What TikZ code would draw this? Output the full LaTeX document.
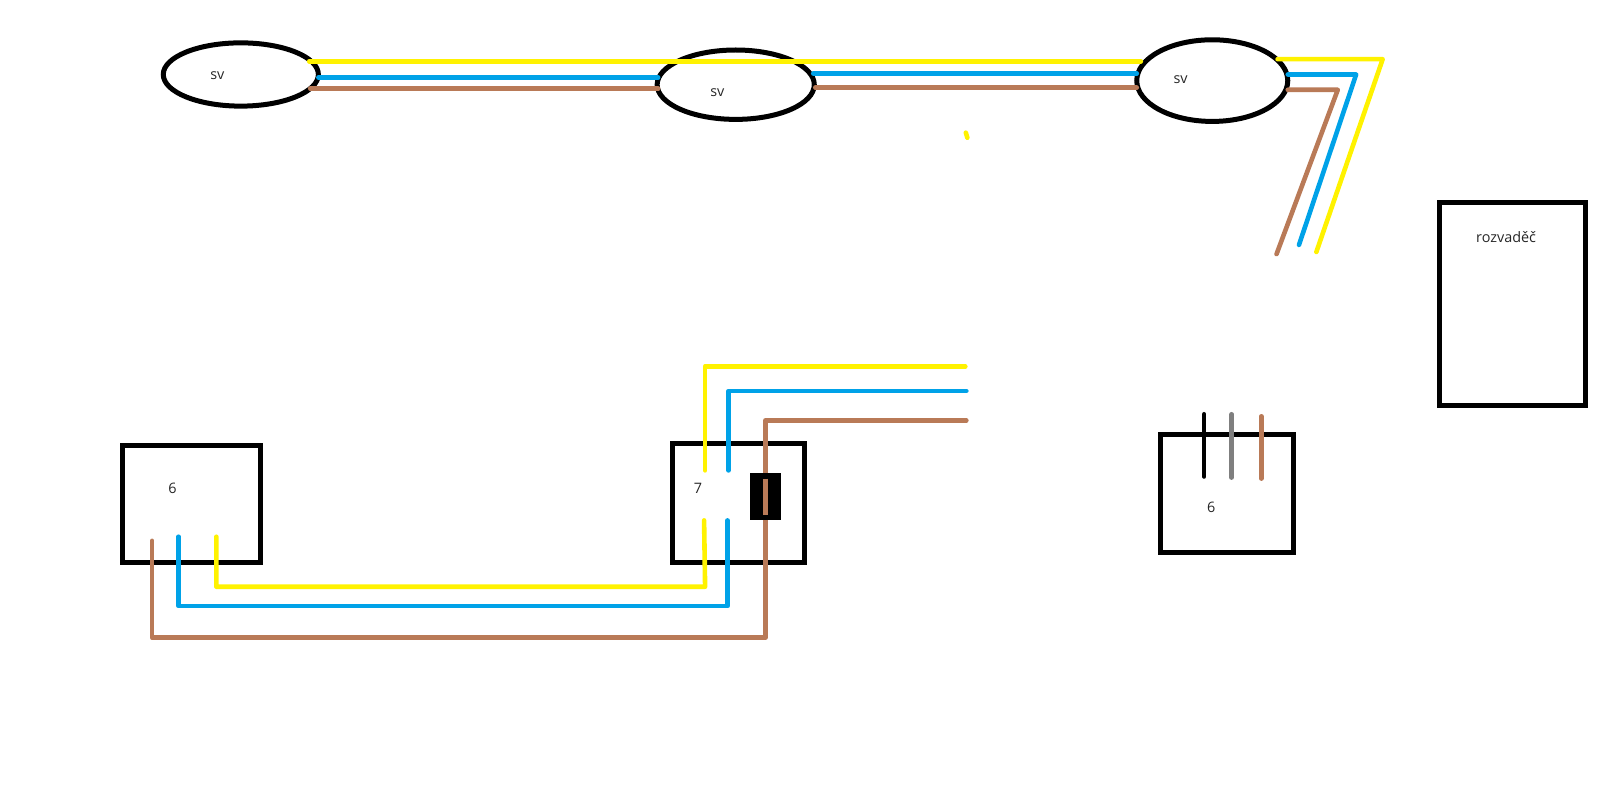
\documentclass[tikz,border=0pt]{standalone}
\usepackage{fontspec}
\setmainfont{Open Sans}
\usetikzlibrary{shapes.geometric}
\def\pu{0.5102pt}
\definecolor{wyellow}{HTML}{FFF200}
\definecolor{wblue}{HTML}{00A2E8}
\definecolor{wbrown}{HTML}{B97A57}
\definecolor{wgray}{HTML}{7F7F7F}
\tikzset{
  lamp/.style={ellipse,draw=black,line width=2.5pt,inner sep=0pt,outer sep=0pt},
  cabinet/.style={rectangle,draw=black,line width=2.5pt,inner sep=0pt,outer sep=0pt},
  wire/.style={line width=2.3pt,line cap=round,line join=round},
  wy/.style={wire,draw=wyellow},
  wb/.style={wire,draw=wblue},
  wn/.style={wire,draw=wbrown},
  wk/.style={wire,draw=black},
  wg/.style={wire,draw=wgray},
  lab/.style={font=\fontsize{7.2pt}{9pt}\selectfont,text=black!85,inner sep=0pt}
}
\newcommand{\boxat}[6]{\node[cabinet,minimum width={(#4-#2)*\pu},minimum height={(#5-#3)*\pu},#6] (#1) at ({(#2+#4)/2},{(#3+#5)/2}) {};}
\begin{document}
\begin{tikzpicture}[x=0.5102pt,y=-0.5102pt]
\useasboundingbox (0,0) rectangle (1568,775);
% lamps
\node[lamp,minimum width={152*\pu},minimum height={62*\pu}] (sv1) at (236,73) {};
\node[lamp,minimum width={154*\pu},minimum height={68*\pu}] (sv2) at (721,83) {};
\node[lamp,minimum width={148*\pu},minimum height={80*\pu}] (sv3) at (1188,79) {};
% boxes
\boxat{box6a}{120}{437}{255}{551}{}
\boxat{box7}{659}{435}{788}{551}{}
\boxat{box6b}{1137}{426}{1268}{541}{}
\boxat{rozv}{1411}{198}{1554}{397}{}
% labels
\node[lab] (t1) at (213,74) {sv};
\node[lab] (t2) at (703,91) {sv};
\node[lab] (t3) at (1157,78) {sv};
\node[lab] (t4) at (169,479) {6};
\node[lab] (t5) at (684,479) {7};
\node[lab] (t6) at (1187,497) {6};
\node[lab] (t7) at (1476,232) {rozvaděč};
% named wire points
\foreach \n/\x/\y in {
 ya/303/60, yb/1118/60, ba/312/76, bb/645/76, na/304/87, nb/645/87,
 bc/797/72, bd/1114/72, nc/799/86, nd/1114/86,
 ye/1252/58, yf/1355/58, yg/1290/247,
 be/1262/73, bf/1329/73, bg/1273/240,
 ne/1262/88, nf/1311/88, ng/1251/249,
 dota/946.5/130, dotb/948/135,
 n1/149/530, n2/149/625, n3/750/625, n4/750/412, n5/947/412,
 b1/175/526, b2/175/594, b3/713/594, b4/713/510,
 y1/212/526, y2/212/575, y3/691/575, y4/690/510,
 y5/691/461, y6/691/359, y7/946/359,
 b5/714/461, b6/714/383, b7/947/383,
 k1/1180/406, k2/1180/467, g1/1207/406, g2/1207/468, m1/1236/408, m2/1236/469,
 f1/750/469, f2/750/505}
 {\coordinate (\n) at (\x,\y);}
% wires
\draw[wy] (ya) -- (yb);
\draw[wb] (ba) -- (bb);
\draw[wn] (na) -- (nb);
\draw[wb] (bc) -- (bd);
\draw[wn] (nc) -- (nd);
\draw[wy] (ye) -- (yf) -- (yg);
\draw[wb] (be) -- (bf) -- (bg);
\draw[wn] (ne) -- (nf) -- (ng);
\draw[wy] (dota) -- (dotb);
\draw[wn] (n1) -- (n2) -- (n3) -- (n4) -- (n5);
\draw[wb] (b1) -- (b2) -- (b3) -- (b4);
\draw[wy] (y1) -- (y2) -- (y3) -- (y4);
\draw[wy] (y5) -- (y6) -- (y7);
\draw[wb] (b5) -- (b6) -- (b7);
\draw[wk] (k1) -- (k2);
\draw[wg] (g1) -- (g2);
\draw[wn] (m1) -- (m2);
% fuse over the brown wire, with the wire showing through it
\node[fill=black,inner sep=0pt,outer sep=0pt,minimum width={30*\pu},minimum height={46*\pu}] (fuse) at (750,487) {};
\draw[wn,line cap=butt] (f1) -- (f2);
\end{tikzpicture}
\end{document}
